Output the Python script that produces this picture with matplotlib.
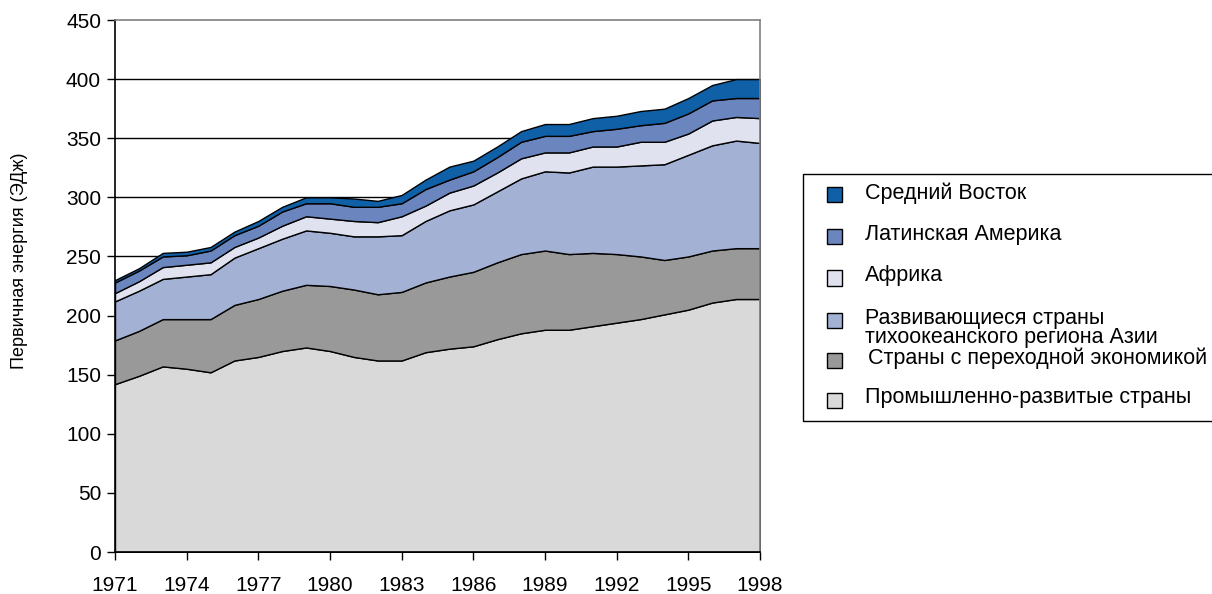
import matplotlib.pyplot as plt
from matplotlib.patches import Rectangle

plt.rcParams['font.family'] = ['Liberation Sans', 'DejaVu Sans']

years = list(range(1971, 1999))

industrial = [142, 149, 157, 155, 152, 162, 165, 170, 173, 170, 165, 162, 162, 169,
              172, 174, 180, 185, 188, 188, 191, 194, 197, 201, 205, 211, 214, 214]
transition = [37, 38, 40, 42, 45, 47, 49, 51, 53, 55, 57, 56, 58, 59,
              61, 63, 65, 67, 67, 64, 62, 58, 53, 46, 45, 44, 43, 43]
asia = [33, 34, 34, 36, 38, 40, 43, 44, 46, 45, 45, 49, 48, 52,
        56, 57, 60, 64, 67, 69, 73, 74, 77, 81, 86, 89, 91, 89]
africa = [7, 8, 10, 10, 10, 9, 9, 11, 12, 12, 13, 12, 16, 13,
          15, 16, 16, 17, 16, 17, 17, 17, 20, 19, 18, 21, 20, 21]
latam = [9, 9, 9, 8, 10, 10, 10, 12, 11, 13, 12, 13, 11, 14,
         11, 12, 13, 14, 14, 14, 13, 15, 14, 16, 17, 17, 16, 17]
mideast = [2, 2, 3, 3, 3, 3, 4, 4, 5, 5, 7, 5, 7, 8,
           11, 9, 9, 9, 10, 10, 11, 11, 12, 12, 13, 13, 16, 16]

series = [industrial, transition, asia, africa, latam, mideast]
labels = ['Промышленно-развитые страны', 'Страны с переходной экономикой',
          'Развивающиеся страны\nтихоокеанского региона Азии', 'Африка',
          'Латинская Америка', 'Средний Восток']
colors = ['#d9d9d9', '#999999', '#a3b1d5', '#e0e2f0', '#6b86bf', '#1060a8']

W, H = 1212, 594
fig = plt.figure(figsize=(W / 100, H / 100), dpi=100)
ax = fig.add_axes([115 / W, 1 - 552 / H, 645 / W, 532 / H])

ax.stackplot(years, *series, colors=colors, edgecolor='black', linewidth=1.0, zorder=2)

ax.set_xlim(1971, 1998)
ax.set_ylim(0, 450)
ax.set_xticks(range(1971, 1999, 3))
ax.set_yticks(range(0, 451, 50))
for y in range(50, 450, 50):
    ax.axhline(y, color='black', linewidth=1.0, zorder=1)

ax.tick_params(direction='out', length=6, width=1, labelsize=15, color='black')
ax.tick_params(axis='x', pad=11)
ax.tick_params(axis='y', pad=4)
for s in ['left', 'bottom']:
    ax.spines[s].set_color('black')
    ax.spines[s].set_linewidth(1.2)
    ax.spines[s].set_zorder(3)
for s in ['top', 'right']:
    ax.spines[s].set_color('#808080')
    ax.spines[s].set_linewidth(1.2)
    ax.spines[s].set_zorder(3)

ax.set_ylabel('Первичная энергия (ЭДж)', fontsize=13)
ax.yaxis.set_label_coords(-0.135, 0.547)

# legend box drawn by hand so the rows sit like in the original
fig.add_artist(Rectangle((803 / W, 1 - 421 / H), 420 / W, 247 / H, transform=fig.transFigure,
                         facecolor='white', edgecolor='black', linewidth=1.0))
marker_y = [400, 360, 320, 278, 237, 195]
for c, lab, my in zip(colors, labels, marker_y):
    fig.add_artist(Rectangle((827 / W, 1 - (my + 7.5) / H), 15 / W, 15 / H,
                             transform=fig.transFigure, facecolor=c,
                             edgecolor='black', linewidth=1.0))
    ty = my - 2
    tx = 865
    if '\n' in lab:
        ty = my + 8
    if lab.startswith('Страны'):
        tx = 868
    fig.text(tx / W, 1 - ty / H, lab, fontsize=15.5, va='center', ha='left',
             linespacing=0.92)

fig.savefig('out.png', dpi=100)
